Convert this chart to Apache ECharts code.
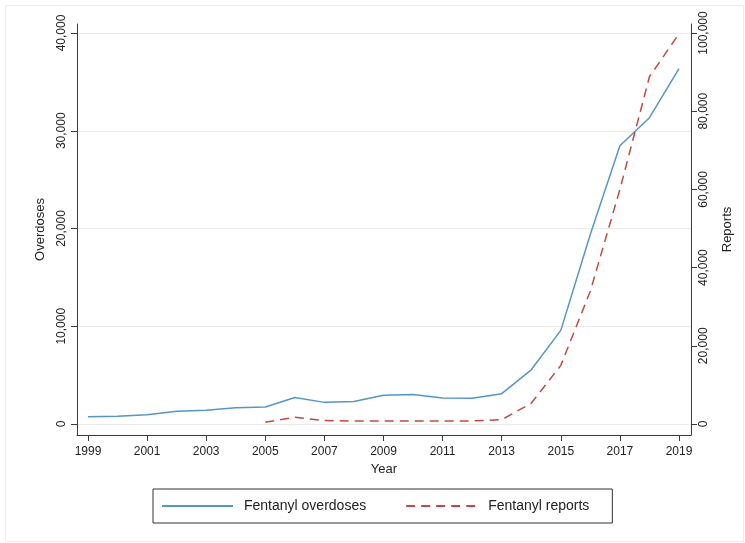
<!DOCTYPE html>
<html>
<head>
<meta charset="utf-8">
<style>
  html, body { margin: 0; padding: 0; background: #ffffff; }
  #chart { width: 745px; height: 543px; }
</style>
<script src="https://cdn.jsdelivr.net/npm/echarts@6/dist/echarts.min.js"></script>
</head>
<body>
<div id="chart"></div>
<script>
// Fentanyl overdose deaths (left axis) and fentanyl drug reports (right axis), by year
const years = [1999, 2000, 2001, 2002, 2003, 2004, 2005, 2006, 2007, 2008, 2009,
               2010, 2011, 2012, 2013, 2014, 2015, 2016, 2017, 2018, 2019];
const overdoses = [730, 782, 957, 1295, 1400, 1664, 1742, 2707, 2213, 2306, 2946,
                   3007, 2666, 2628, 3105, 5544, 9580, 19413, 28466, 31335, 36359];

const reportYears = [2005, 2006, 2007, 2008, 2009, 2010, 2011, 2012, 2013, 2014,
                     2015, 2016, 2017, 2018, 2019];
const reports = [450, 1700, 900, 750, 750, 750, 750, 800, 1100, 5300,
                 15000, 34000, 60000, 88800, 99800];

// Tick labels
const yearTicks = [1999, 2001, 2003, 2005, 2007, 2009, 2011, 2013, 2015, 2017, 2019];
const overdoseTicks = [0, 10000, 20000, 30000, 40000];
const reportTicks = [0, 20000, 40000, 60000, 80000, 100000];

const seriesNames = ['Fentanyl overdoses', 'Fentanyl reports'];

const FONT = '"Liberation Sans", Arial, Helvetica, sans-serif';
const AXIS_COLOR = '#3a3a3a';
const TEXT_COLOR = '#222222';
const BLUE = '#5596c4';
const RED = '#c04b45';
const fmt = v => Math.round(v).toLocaleString('en-US');

const chart = echarts.init(document.getElementById('chart'), null, { renderer: 'canvas' });

const yAxisCommon = {
  type: 'value',
  nameLocation: 'middle',
  nameRotate: 90,
  nameTextStyle: { fontFamily: FONT, fontSize: 13, color: TEXT_COLOR },
  axisLine: { show: true, lineStyle: { color: AXIS_COLOR, width: 1 } },
  axisTick: { show: true, inside: false, length: 6, lineStyle: { color: AXIS_COLOR, width: 1 } },
  axisLabel: { rotate: 90, fontFamily: FONT, fontSize: 12, color: TEXT_COLOR, formatter: fmt }
};

chart.setOption({
  backgroundColor: '#ffffff',
  animation: false,
  graphic: [{
    type: 'rect',
    left: 3, top: 3,
    shape: { width: 738, height: 536 },
    style: { fill: 'none', stroke: '#ececec', lineWidth: 1 },
    silent: true
  }],
  grid: { left: 77, right: 54, top: 24, bottom: 108, containLabel: false, outerBoundsMode: 'none' },
  legend: {
    data: seriesNames,
    top: 489,
    left: 153,
    orient: 'horizontal',
    padding: [10, 23, 10, 8],
    borderColor: '#333333',
    borderWidth: 1,
    itemWidth: 71,
    itemHeight: 14,
    itemGap: 39,
    itemStyle: { opacity: 0 },
    textStyle: { fontFamily: FONT, fontSize: 14, color: TEXT_COLOR, padding: [0, 0, 0, 6] }
  },
  xAxis: {
    type: 'value',
    min: 1998.628,
    max: 2019.406,
    name: 'Year',
    nameLocation: 'middle',
    nameGap: 28,
    nameTextStyle: { fontFamily: FONT, fontSize: 13, color: TEXT_COLOR },
    axisLine: { show: true, onZero: false, lineStyle: { color: AXIS_COLOR, width: 1 } },
    axisTick: { show: true, inside: false, length: 6, customValues: yearTicks,
                lineStyle: { color: AXIS_COLOR, width: 1 } },
    axisLabel: { customValues: yearTicks, margin: 11, fontFamily: FONT, fontSize: 12,
                 color: TEXT_COLOR, formatter: v => String(Math.round(v)) },
    splitLine: { show: false }
  },
  yAxis: [
    Object.assign({}, yAxisCommon, {
      position: 'left',
      min: -1125,
      max: 40921,
      name: 'Overdoses',
      nameGap: 30,
      axisTick: Object.assign({}, yAxisCommon.axisTick, { customValues: overdoseTicks }),
      axisLabel: Object.assign({}, yAxisCommon.axisLabel, { customValues: overdoseTicks, margin: 9 }),
      splitLine: { show: true, lineStyle: { color: '#ebebeb', width: 1 } }
    }),
    Object.assign({}, yAxisCommon, {
      position: 'right',
      min: -2813,
      max: 102302,
      name: 'Reports',
      nameGap: 30,
      axisTick: Object.assign({}, yAxisCommon.axisTick, { customValues: reportTicks }),
      axisLabel: Object.assign({}, yAxisCommon.axisLabel, { customValues: reportTicks, margin: 7 }),
      splitLine: { show: false }
    })
  ],
  series: [
    {
      name: seriesNames[0],
      type: 'line',
      yAxisIndex: 0,
      symbol: 'none',
      smooth: false,
      color: BLUE,
      lineStyle: { color: BLUE, width: 1.5 },
      data: years.map((y, i) => [y, overdoses[i]])
    },
    {
      name: seriesNames[1],
      type: 'line',
      yAxisIndex: 1,
      symbol: 'none',
      smooth: false,
      color: RED,
      lineStyle: { color: RED, width: 1.5, type: [9, 6] },
      data: reportYears.map((y, i) => [y, reports[i]])
    }
  ]
});
</script>
</body>
</html>
